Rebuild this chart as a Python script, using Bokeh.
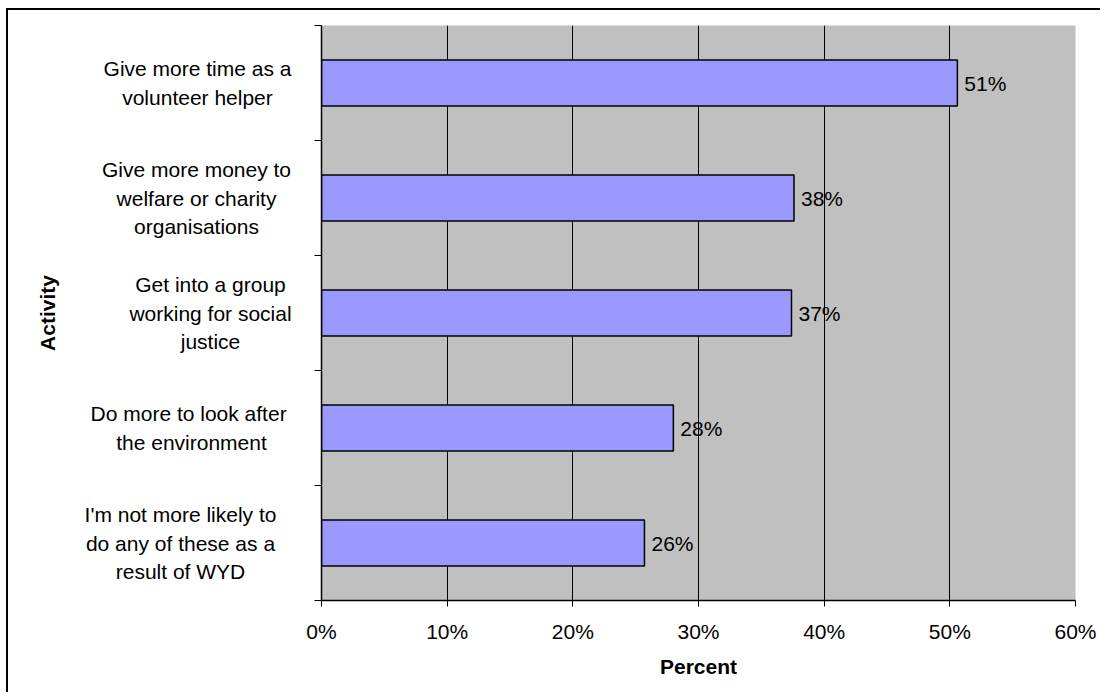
import math
from bokeh.plotting import figure
from bokeh.layouts import row
from bokeh.models import Range1d, FixedTicker, ColumnDataSource
from bokeh.core.properties import value
from bokeh.embed import file_html
from bokeh.resources import INLINE

# ---- data ----
activities = [
    "Give more time as a\nvolunteer helper",
    "Give more money to\nwelfare or charity\norganisations",
    "Get into a group\nworking for social\njustice",
    "Do more to  look after\nthe environment",
    "I'm not more likely to\ndo any of these as a\nresult of WYD",
]
percent = [50.6, 37.6, 37.4, 28.0, 25.7]
x_ticks = [0, 10, 20, 30, 40, 50, 60]

# ---- styles ----
FONT = "Liberation Sans"
LEFT_W = 290
label_centers = [189, 188, 202, 183, 172]  # x (pixels) of each category label centre in the label panel
activity_x = 39

n = len(activities)
ypos = [n - 0.5 - i for i in range(n)]
labels = [f"{round(v)}%" for v in percent]
yr = Range1d(0, n)

src = ColumnDataSource(dict(y=ypos, v=percent, lab=labels))
lab_src = ColumnDataSource(dict(x=label_centers, y=ypos, t=activities))

# ---- label panel (category names + axis title) ----
pl = figure(width=LEFT_W, height=682, output_backend="svg", toolbar_location=None,
            x_range=Range1d(0, LEFT_W), y_range=yr, x_axis_type=None, y_axis_type=None,
            min_border_left=0, min_border_right=0, min_border_top=15, min_border_bottom=92)
pl.outline_line_color = None
pl.background_fill_color = "white"
pl.border_fill_color = "white"
pl.xgrid.visible = False
pl.ygrid.visible = False
pl.text(x="x", y="y", text="t", source=lab_src, text_align="center", text_baseline="middle",
        text_font=value(FONT), text_font_size="21px", text_color="black", text_line_height=1.25)
pl.text(x=[activity_x], y=[n / 2], text=["Activity"], angle=math.pi / 2,
        text_align="center", text_baseline="middle", text_font=value(FONT),
        text_font_size="21px", text_font_style="bold", text_color="black")

# ---- chart ----
p = figure(width=802, height=682, output_backend="svg", toolbar_location=None,
           x_range=Range1d(0, 60), y_range=yr,
           min_border_left=23, min_border_top=15, min_border_right=25, min_border_bottom=92)
p.background_fill_color = "#C0C0C0"
p.border_fill_color = "white"
p.outline_line_color = None

p.hbar(y="y", right="v", left=0, height=0.4, source=src,
       fill_color="#9999FF", line_color="black", line_width=1.5)
p.text(x="v", y="y", text="lab", source=src, x_offset=7,
       text_baseline="middle", text_align="left",
       text_font=value(FONT), text_font_size="21px", text_color="black")

xa = p.xaxis[0]
xa.ticker = FixedTicker(ticks=x_ticks)
xa.major_label_overrides = {t: f"{t}%" for t in x_ticks}
xa.major_label_text_font = FONT
xa.major_label_text_font_size = "21px"
xa.major_label_text_color = "black"
xa.major_tick_out = 6
xa.major_tick_in = 0
xa.minor_tick_line_color = None
xa.major_label_standoff = 13
xa.axis_line_color = "black"
xa.axis_line_width = 1.5
xa.major_tick_line_color = "black"
xa.axis_label = "Percent"
xa.axis_label_text_font = FONT
xa.axis_label_text_font_size = "21px"
xa.axis_label_text_font_style = "bold"
xa.axis_label_text_color = "black"
xa.axis_label_standoff = 9

ya = p.yaxis[0]
ya.ticker = FixedTicker(ticks=list(range(n + 1)))
ya.major_label_overrides = {t: "" for t in range(n + 1)}
ya.major_label_text_font_size = "1px"
ya.major_label_standoff = 0
ya.major_tick_out = 7
ya.major_tick_in = 0
ya.minor_tick_line_color = None
ya.axis_line_color = "black"
ya.axis_line_width = 1.5
ya.major_tick_line_color = "black"

p.xgrid.ticker = FixedTicker(ticks=x_ticks)
p.xgrid.grid_line_color = "black"
p.xgrid.grid_line_width = 1
p.ygrid.grid_line_color = None

layout = row(pl, p)
layout.styles = {"border-left": "2px solid black", "border-top": "2px solid black",
                 "margin-left": "6px", "margin-top": "8px"}

open("out.html", "w").write(file_html(layout, INLINE))
